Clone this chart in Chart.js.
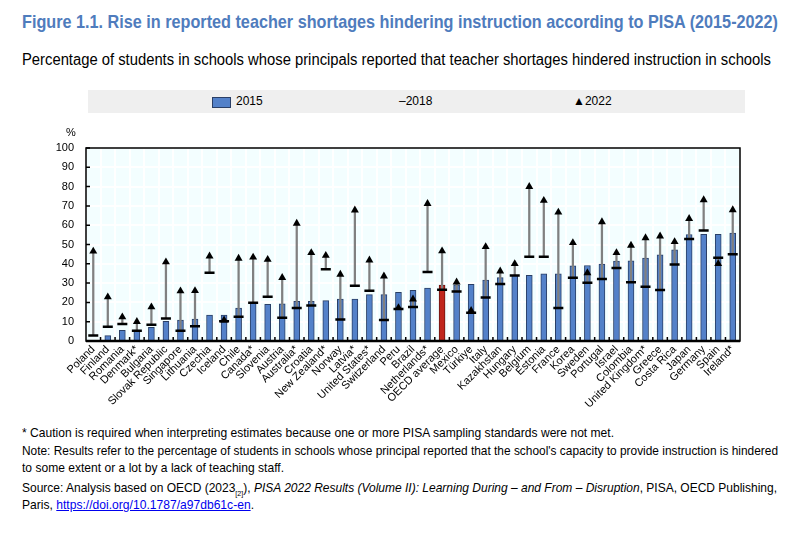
<!DOCTYPE html>
<html>
<head>
<meta charset="utf-8">
<script src="https://cdn.jsdelivr.net/npm/chart.js@4"></script>
<style>
  body { margin: 0; background: #fff; font-family: 'Liberation Sans', Arial, sans-serif; }
  #page { position: relative; width: 800px; height: 536px; overflow: hidden; }
  .txt { position: absolute; left: 22px; white-space: nowrap; color: #000; transform-origin: 0 0; }
  #title { top: 11px; font-size: 18.5px; font-weight: bold; color: #4f7cbd; }
  #subtitle { top: 51px; font-size: 16px; }
  #legend { position: absolute; left: 88px; top: 90px; width: 657px; height: 23px; background: #efefef; font-size: 12px; }
  #legend span { position: absolute; top: 4px; }
  .note { font-size: 13.5px; }
  .note a { color: #0000ee; }
  #wrap { position: absolute; left: 0; top: 118px; width: 800px; height: 300px; }
</style>
</head>
<body>
<div id="page">
  <div id="title" class="txt" data-w="756">Figure 1.1. Rise in reported teacher shortages hindering instruction according to PISA (2015-2022)</div>
  <div id="subtitle" class="txt" data-w="749">Percentage of students in schools whose principals reported that teacher shortages hindered instruction in schools</div>
  <div id="legend">
    <span style="left:124px;top:7px;width:17px;height:9px;background:#5381c9;border:1px solid #2a3f66;"></span>
    <span style="left:148px;">2015</span>
    <span style="left:311px;">&#8211;2018</span>
    <span style="left:485px;">&#9650;2022</span>
  </div>
  <div id="wrap"><canvas id="myChart"></canvas></div>
  <div class="txt note" data-w="592" style="top:425px;">* Caution is required when interpreting estimates because one or more PISA sampling standards were not met.</div>
  <div class="txt note" data-w="756" style="top:443px;">Note: Results refer to the percentage of students in schools whose principal reported that the school's capacity to provide instruction is hindered</div>
  <div class="txt note" data-w="262" style="top:460px;">to some extent or a lot by a lack of teaching staff.</div>
  <div class="txt note" data-w="755" style="top:480px;">Source: Analysis based on OECD (2023<sub style="font-size:8px;">[2]</sub>), <i>PISA 2022 Results (Volume II): Learning During – and From – Disruption</i>, PISA, OECD Publishing,</div>
  <div class="txt note" data-w="232" style="top:497px;">Paris, <a href="#">https://doi.org/10.1787/a97db61c-en</a>.</div>
</div>
<script>
  const countries = [
    'Poland', 'Finland', 'Romania', 'Denmark*', 'Bulgaria', 'Slovak Republic', 'Singapore', 'Lithuania',
    'Czechia', 'Iceland', 'Chile', 'Canada*', 'Slovenia', 'Austria', 'Australia*', 'Croatia',
    'New Zealand*', 'Norway', 'Latvia*', 'United States*', 'Switzerland', 'Peru', 'Brazil', 'Netherlands*',
    'OECD average', 'Mexico', 'Türkiye', 'Italy', 'Kazakhstan', 'Hungary', 'Belgium', 'Estonia',
    'France', 'Korea', 'Sweden', 'Portugal', 'Israel', 'Colombia', 'United Kingdom*', 'Greece',
    'Costa Rica', 'Japan', 'Germany', 'Spain', 'Ireland*'
  ]
  const values2015 = [
    null, 2.8, 5.5, 5.7, 7.1, 10.2, 10.9, 11.4,
    13.4, 13.4, 17.1, 19.8, 19.0, 19.3, 20.5, 20.5,
    20.9, 21.7, 21.7, 24.0, 24.0, 25.2, 26.2, 27.4,
    29.0, 29.1, 29.3, 31.6, 32.8, 34.0, 34.0, 34.8,
    34.8, 39.0, 39.1, 39.8, 41.4, 41.6, 42.9, 44.7,
    47.2, 55.2, 55.3, 55.3, 55.9
  ]
  const values2018 = [
    2.8, 7.4, 8.8, 5.3, 8.4, 11.7, 5.3, 7.6,
    35.3, 10.2, 12.6, 19.8, 22.9, 12.1, 17.1, 18.4,
    37.2, 11.2, 28.6, 26.0, 10.9, 16.6, 17.6, 35.7,
    26.6, 25.7, 14.7, 22.6, 29.5, 34.0, 43.6, 43.6,
    17.1, 32.8, 30.2, 32.1, 37.8, 30.5, 28.1, 26.4,
    39.7, 52.9, 57.2, 43.1, 45.0
  ]
  const values2022 = [
    46.5, 22.8, 12.4, 10.0, 17.6, 40.9, 25.9, 26.0,
    44.0, 10.8, 42.8, 43.4, 42.2, 32.8, 60.9, 45.7,
    44.3, 34.5, 67.8, 41.9, 33.6, 17.2, 21.7, 71.2,
    46.6, 30.5, 15.7, 48.8, 36.2, 40.0, 80.0, 72.8,
    66.7, 50.9, 35.3, 61.7, 45.7, 49.5, 53.4, 54.3,
    51.4, 63.4, 73.1, 40.0, 67.9
  ]
  const yTicks = [0, 10, 20, 30, 40, 50, 60, 70, 80, 90, 100]

  // squeeze the text lines to the narrow width of the original
  document.querySelectorAll('.txt[data-w]').forEach(el => {
    const w = el.getBoundingClientRect().width
    el.style.transform = 'scaleX(' + (Number(el.dataset.w) / w) + ')'
  })

  const ranges = values2018.map((v, i) => [v, values2022[i]])
  const barColors = countries.map(c => c === 'OECD average' ? '#c0261c' : '#5381c9')
  const barBorders = countries.map(c => c === 'OECD average' ? '#6b1510' : '#2a3f66')

  // plot background, frame and inward tick marks
  const framePlugin = {
    id: 'frame',
    beforeDraw(chart) {
      const { ctx, chartArea: a } = chart
      ctx.save()
      ctx.fillStyle = '#f3feff'
      ctx.fillRect(a.left, a.top, a.right - a.left, a.bottom - a.top)
      ctx.restore()
    },
    afterDraw(chart) {
      const { ctx, chartArea: a, scales } = chart
      ctx.save()
      ctx.strokeStyle = '#000'
      ctx.lineWidth = 1.5
      ctx.strokeRect(a.left, a.top, a.right - a.left, a.bottom - a.top)
      ctx.lineWidth = 2.5
      ctx.beginPath()
      ctx.moveTo(a.left, a.bottom)
      ctx.lineTo(a.right, a.bottom)
      ctx.stroke()
      ctx.lineWidth = 1.5
      ctx.beginPath()
      yTicks.forEach(t => {
        const y = scales.y.getPixelForValue(t)
        ctx.moveTo(a.left, y)
        ctx.lineTo(a.left + 4, y)
      })
      for (let i = 1; i < countries.length; i++) {
        const x = (scales.x.getPixelForValue(i - 1) + scales.x.getPixelForValue(i)) / 2
        ctx.moveTo(x, a.bottom)
        ctx.lineTo(x, a.bottom - 4)
      }
      ctx.stroke()
      ctx.fillStyle = '#000'
      ctx.font = '11px "Liberation Sans", Arial'
      ctx.textAlign = 'center'
      ctx.fillText('%', a.left - 15, a.top - 12)
      ctx.restore()
    }
  }

  const ctx = document.getElementById('myChart')
  // eslint-disable-next-line no-unused-vars
  const myChart = new Chart(ctx, {
    type: 'bar',
    data: {
      labels: countries,
      datasets: [{
        type: 'line',
        label: '2022',
        data: values2022,
        showLine: false,
        pointStyle: 'triangle',
        pointRadius: 4.6,
        pointBackgroundColor: '#000',
        pointBorderColor: '#000',
        pointBorderWidth: 0,
        order: 1
      }, {
        type: 'line',
        label: '2018',
        data: values2018,
        showLine: false,
        pointStyle: 'line',
        pointRadius: 5,
        pointBorderColor: '#000',
        pointBorderWidth: 2.5,
        order: 2
      }, {
        label: 'change',
        data: ranges,
        backgroundColor: '#808080',
        barThickness: 1.6,
        grouped: false,
        order: 3
      }, {
        label: '2015',
        data: values2015,
        backgroundColor: barColors,
        borderColor: barBorders,
        borderWidth: 1,
        barThickness: 6,
        grouped: false,
        order: 4
      }]
    },
    options: {
      responsive: true,
      maintainAspectRatio: false,
      animation: false,
      layout: { padding: { top: 30, right: 60, left: 0, bottom: 0 } },
      scales: {
        x: {
          grid: { color: '#ffffff', lineWidth: 2, drawTicks: false, offset: true },
          border: { display: false },
          ticks: {
            autoSkip: false,
            maxRotation: 45,
            minRotation: 45,
            padding: 2,
            color: '#000',
            font: { family: '"Liberation Sans", Arial', size: 11 }
          },
          afterFit(scale) { scale.height = 77 }
        },
        y: {
          min: 0,
          max: 100,
          grid: { color: '#ffffff', lineWidth: 2, drawTicks: false },
          border: { display: false },
          ticks: {
            stepSize: 10,
            padding: 12,
            color: '#000',
            font: { family: '"Liberation Sans", Arial', size: 11 }
          },
          afterFit(scale) { scale.width = 86 }
        }
      },
      plugins: {
        legend: { display: false },
        tooltip: { enabled: false }
      }
    },
    plugins: [framePlugin]
  })
</script>
</body>
</html>
